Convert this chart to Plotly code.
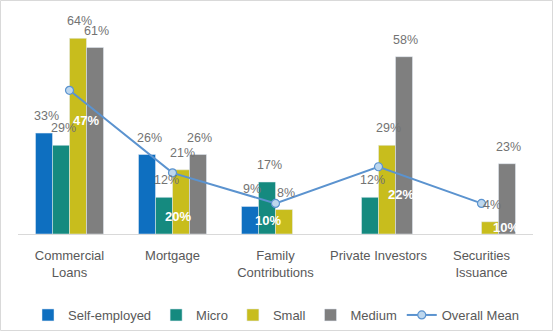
import plotly.graph_objects as go

categories = ["Commercial<br>Loans", "Mortgage", "Family<br>Contributions", "Private Investors", "Securities<br>Issuance"]
self_employed = [33, 26, 9, None, None]
micro = [29, 12, 17, 12, None]
small = [64, 21, 8, 29, 4]
medium = [61, 26, None, 58, 23]
overall_mean = [47, 20, 10, 22, 10]

series = [
    ("Self-employed", self_employed, "#0E6FC0"),
    ("Micro", micro, "#158A7F"),
    ("Small", small, "#C8BD1D"),
    ("Medium", medium, "#7F7F7F"),
]

FONT = "Liberation Sans"
L, R, T, B = 18, 20, 20, 97
W, H = 553, 331
pw, ph = W - L - R, H - T - B
BARGAP = 0.34
bar_px = pw / len(categories) * (1 - BARGAP) / len(series)

fig = go.Figure()
for i, (name, vals, col) in enumerate(series):
    fig.add_trace(go.Bar(
        x=categories, y=vals, name=name, marker_color=col,
        hoverinfo="skip",
    ))
    off = (i - (len(series) - 1) / 2) * bar_px
    for c, v in zip(categories, vals):
        if v is None:
            continue
        fig.add_annotation(x=c, y=v, text=f"{v}%", showarrow=False,
                           xshift=off + 2, yshift=8, yanchor="bottom",
                           font=dict(family=FONT, size=12.5, color="#737373"))

fig.add_trace(go.Scatter(
    x=categories, y=overall_mean, name="Overall Mean", mode="lines+markers",
    line=dict(color="#5B93CF", width=2),
    marker=dict(size=8, color="#BDD7EE", line=dict(color="#5B93CF", width=1.2)),
    cliponaxis=False,
))

# white bold mean labels offset from their points
shifts = [(16, -30), (5, -44), (-8, -17), (22, -28), (24, -24)]
for c, v, (dx, dy) in zip(categories, overall_mean, shifts):
    fig.add_annotation(x=c, y=v, text=f"<b>{v}%</b>", showarrow=False,
                       xshift=dx, yshift=dy,
                       font=dict(family=FONT, size=13, color="white"))

fig.add_shape(type="rect", xref="paper", yref="paper",
              x0=-(L - 0.5) / pw, x1=1 + (R - 0.5) / pw,
              y0=-(B - 0.5) / ph, y1=1 + (T - 0.5) / ph,
              line=dict(color="#D9D9D9", width=1))

fig.update_layout(
    width=W, height=H, margin=dict(l=L, r=R, t=T, b=B, autoexpand=False),
    paper_bgcolor="white", plot_bgcolor="white",
    barmode="group", bargap=BARGAP, bargroupgap=0,
    font=dict(family=FONT, size=13, color="#595959"),
    showlegend=True,
    legend=dict(orientation="h", x=0.5, xanchor="center", xref="container",
                y=0.003, yanchor="bottom", yref="container",
                font=dict(family=FONT, size=13, color="#595959"),
                itemwidth=30, tracegroupgap=0),
    xaxis=dict(showline=True, linecolor="#D9D9D9", linewidth=1, ticks="",
               tickfont=dict(family=FONT, size=13, color="#595959"),
               ticklabelstandoff=9, fixedrange=True),
    yaxis=dict(range=[0, 70], visible=False, showgrid=False, zeroline=False),
)

fig.write_html("out.html")
